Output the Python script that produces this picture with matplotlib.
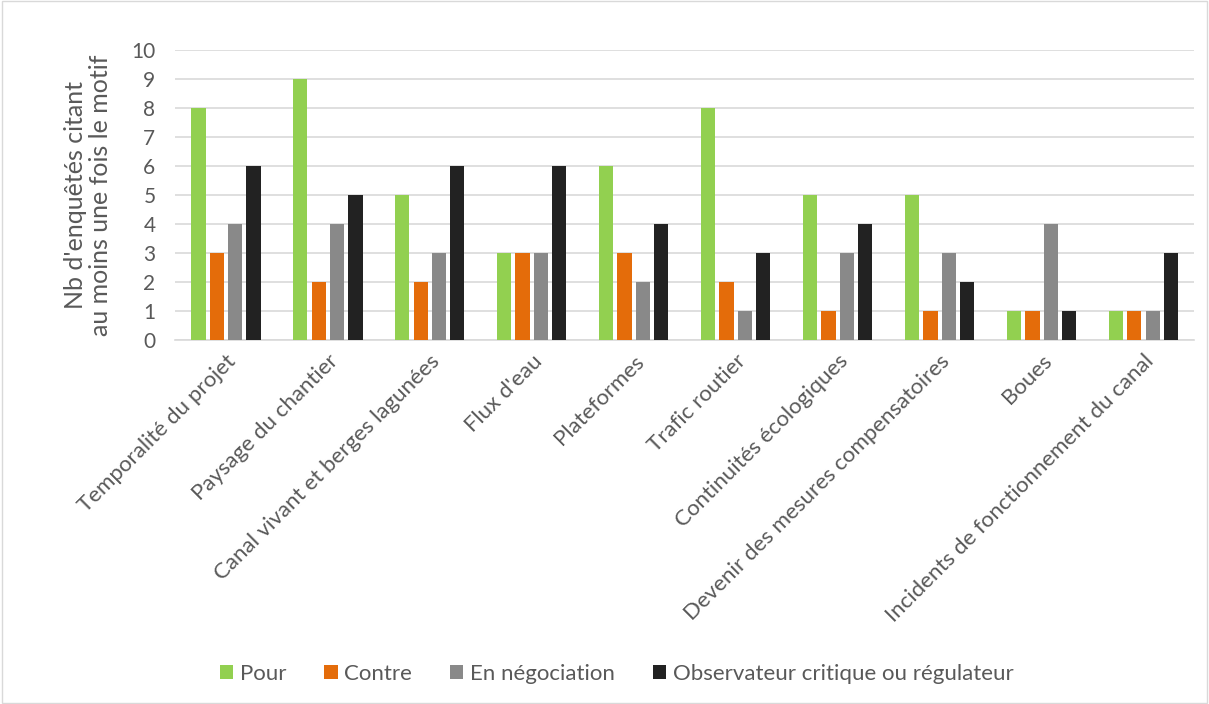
import matplotlib.pyplot as plt
import numpy as np
from matplotlib.patches import Rectangle

# data
categories = [
    "Temporalité du projet",
    "Paysage du chantier",
    "Canal vivant et berges lagunées",
    "Flux d'eau",
    "Plateformes",
    "Trafic routier",
    "Continuités écologiques",
    "Devenir des mesures compensatoires",
    "Boues",
    "Incidents de fonctionnement du canal",
]
pour = [8, 9, 5, 3, 6, 8, 5, 5, 1, 1]
contre = [3, 2, 2, 3, 3, 2, 1, 1, 1, 1]
negociation = [4, 4, 3, 3, 2, 1, 3, 3, 4, 1]
observateur = [6, 5, 6, 6, 4, 3, 4, 2, 1, 3]

series_names = ["Pour", "Contre", "En négociation", "Observateur critique ou régulateur"]
colors = ["#92D050", "#E46C0A", "#898989", "#222222"]

plt.rcParams["font.family"] = ["Lato", "DejaVu Sans"]

fig = plt.figure(figsize=(12.09, 7.04), dpi=100)
fig.patches.append(
    Rectangle((0.002, 0.002), 0.996, 0.996, transform=fig.transFigure,
              fill=False, edgecolor="#D9D9D9", linewidth=1)
)
ax = fig.add_axes([0.1447, 0.517, 0.8433, 0.412])

x = np.arange(len(categories))
width = 0.14
step = 0.18
for i, (vals, name, col) in enumerate(zip([pour, contre, negociation, observateur], series_names, colors)):
    ax.bar(x + (i - 1.5) * step, vals, width=width, color=col, label=name, zorder=3)

ax.set_xlim(-0.5, len(categories) - 0.5)
ax.set_ylim(0, 10)
ax.set_yticks(range(0, 11))
ax.yaxis.grid(True, color="#D9D9D9", linewidth=1.2, zorder=0)
ax.tick_params(axis="y", length=0, labelsize=15, colors="#595959", pad=14)
ax.tick_params(axis="x", length=0, pad=8)
ax.set_xticks(x)
ax.set_xticklabels(categories, rotation=45, ha="right", rotation_mode="anchor",
                   fontsize=16, color="#595959")
for s in ["top", "right", "left"]:
    ax.spines[s].set_visible(False)
ax.spines["bottom"].set_color("#D9D9D9")
ax.spines["bottom"].set_linewidth(1.2)

ax.set_ylabel("Nb d'enquêtés citant\nau moins une fois le motif", fontsize=18,
              color="#595959", linespacing=1.1, labelpad=14)

fig.legend(loc="center", bbox_to_anchor=(0.51, 0.043), ncol=4, frameon=False,
           fontsize=16, handlelength=0.6, handleheight=0.6, handletextpad=0.3,
           columnspacing=1.7, labelcolor="#595959")

fig.savefig("out.png", dpi=100)
